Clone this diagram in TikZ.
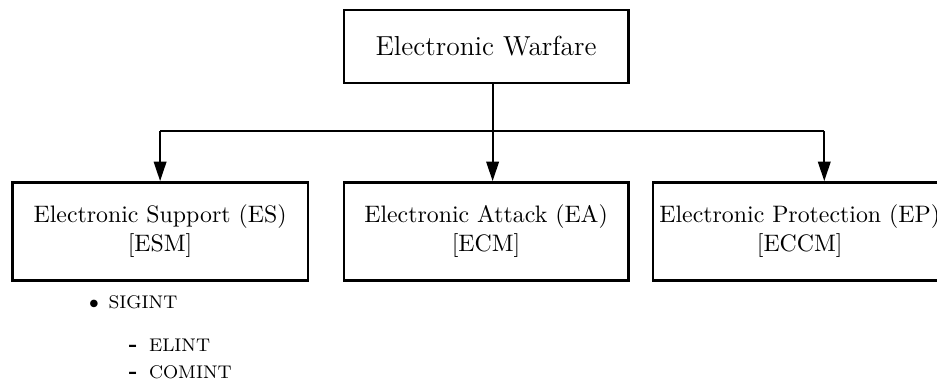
\documentclass[tikz,border=0pt]{standalone}
\usepackage{amsmath}
\usetikzlibrary{arrows.meta}
\usetikzlibrary{positioning}

\begin{document}
\begin{tikzpicture}[
    box/.style={draw, very thick, align=center, font=\fontsize{10.4pt}{12.5pt}\selectfont},
    link/.style={thick},
    arrowlink/.style={thick, -{Triangle[length=8.5pt,width=5.5pt]}},
    listitem/.style={anchor=base west, inner sep=0pt, font=\footnotesize}
  ]
\useasboundingbox (0,0) rectangle (14.38,-5.909);
\node [box, font=\large, minimum width=4.36cm, minimum height=1.12cm] (ew) at (7.46,-0.714) {Electronic Warfare};
\node [box, minimum width=4.54cm, minimum height=1.5cm] (es) at (2.457,-3.55) {Electronic Support (ES)\\{}[ESM]};
\node [box, minimum width=4.36cm, minimum height=1.5cm] (ea) at (7.46,-3.55) {Electronic Attack (EA)\\{}[ECM]};
\node [box, minimum height=1.5cm, inner sep=2.8pt, anchor=west] (ep) at (10.0,-3.55) {Electronic Protection (EP)\\{}[ECCM]};
\coordinate (split) at (7.56,-2.01);
\coordinate (epin) at (12.65,0 |- ep.north);
\draw [link] (ew.south -| split) -- (split);
\draw [link] (split -| es.north) -- (split -| epin);
\draw [arrowlink] (split -| es.north) -- (es.north);
\draw [arrowlink] (split) -- (split |- ea.north);
\draw [arrowlink] (split -| epin) -- (epin);
% ES sub-list
\node [listitem] (bullet) at (1.36,-4.73) {$\bullet$};
\node [listitem] (sigint) at (1.66,-4.73) {SIGINT};
\node [listitem] (dash1) at (1.97,-5.39) {\normalsize\textbf{-}};
\node [listitem] (elint) at (2.28,-5.39) {ELINT};
\node [listitem] (dash2) at (1.97,-5.81) {\normalsize\textbf{-}};
\node [listitem] (comint) at (2.28,-5.81) {COMINT};
\end{tikzpicture}
\end{document}
